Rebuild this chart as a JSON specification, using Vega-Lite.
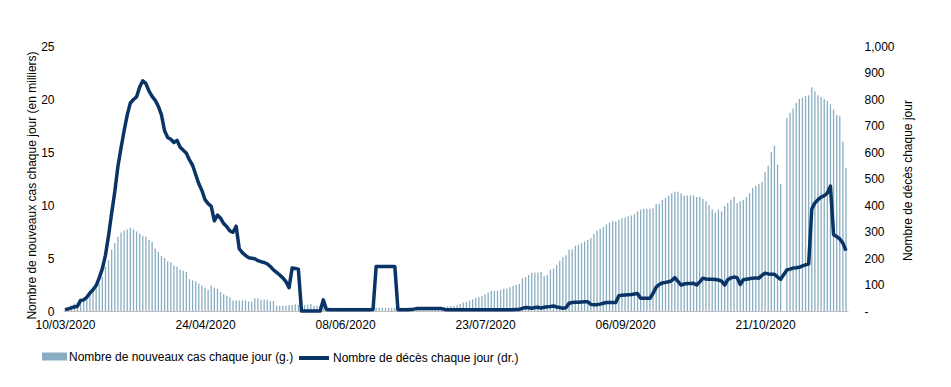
{
  "$schema": "https://vega.github.io/schema/vega-lite/v6.json",
  "width": 785,
  "height": 265,
  "autosize": {"type": "none"},
  "padding": {"left": 63, "top": 46, "right": 103, "bottom": 76},
  "background": "white",
  "config": {
    "view": {"stroke": null},
    "font": "Liberation Sans",
    "axis": {"labelFont": "Liberation Sans", "titleFont": "Liberation Sans", "labelFontSize": 12, "titleFontSize": 12, "labelColor": "#000000", "titleColor": "#000000", "titleFontWeight": "normal", "grid": false},
    "legend": {"labelFont": "Liberation Sans", "labelFontSize": 12, "labelColor": "#000000", "padding": 0, "labelLimit": 500, "labelOffset": 2}
  },
  "data": {"values": [
    {"date": "2020/03/10", "cases": 0.1, "deaths": 5},
    {"date": "2020/03/11", "cases": 0.15, "deaths": 8},
    {"date": "2020/03/12", "cases": 0.3, "deaths": 12},
    {"date": "2020/03/13", "cases": 0.7, "deaths": 15},
    {"date": "2020/03/14", "cases": 0.8, "deaths": 18},
    {"date": "2020/03/15", "cases": 1.0, "deaths": 40},
    {"date": "2020/03/16", "cases": 1.2, "deaths": 42},
    {"date": "2020/03/17", "cases": 1.4, "deaths": 52},
    {"date": "2020/03/18", "cases": 1.7, "deaths": 68},
    {"date": "2020/03/19", "cases": 2.0, "deaths": 80},
    {"date": "2020/03/20", "cases": 2.3, "deaths": 96},
    {"date": "2020/03/21", "cases": 2.6, "deaths": 125},
    {"date": "2020/03/22", "cases": 3.2, "deaths": 160},
    {"date": "2020/03/23", "cases": 4.2, "deaths": 210},
    {"date": "2020/03/24", "cases": 4.8, "deaths": 285},
    {"date": "2020/03/25", "cases": 5.8, "deaths": 370},
    {"date": "2020/03/26", "cases": 6.4, "deaths": 450},
    {"date": "2020/03/27", "cases": 7.0, "deaths": 545},
    {"date": "2020/03/28", "cases": 7.4, "deaths": 615},
    {"date": "2020/03/29", "cases": 7.6, "deaths": 680},
    {"date": "2020/03/30", "cases": 7.7, "deaths": 740},
    {"date": "2020/03/31", "cases": 7.85, "deaths": 785},
    {"date": "2020/04/01", "cases": 7.7, "deaths": 798},
    {"date": "2020/04/02", "cases": 7.5, "deaths": 808},
    {"date": "2020/04/03", "cases": 7.3, "deaths": 845},
    {"date": "2020/04/04", "cases": 7.1, "deaths": 869},
    {"date": "2020/04/05", "cases": 7.0, "deaths": 858},
    {"date": "2020/04/06", "cases": 6.7, "deaths": 830},
    {"date": "2020/04/07", "cases": 6.5, "deaths": 810},
    {"date": "2020/04/08", "cases": 5.9, "deaths": 795},
    {"date": "2020/04/09", "cases": 5.6, "deaths": 772},
    {"date": "2020/04/10", "cases": 5.2, "deaths": 740},
    {"date": "2020/04/11", "cases": 5.0, "deaths": 680},
    {"date": "2020/04/12", "cases": 4.7, "deaths": 655},
    {"date": "2020/04/13", "cases": 4.6, "deaths": 648},
    {"date": "2020/04/14", "cases": 4.3, "deaths": 636},
    {"date": "2020/04/15", "cases": 4.2, "deaths": 644},
    {"date": "2020/04/16", "cases": 3.9, "deaths": 618},
    {"date": "2020/04/17", "cases": 3.8, "deaths": 607},
    {"date": "2020/04/18", "cases": 3.7, "deaths": 595},
    {"date": "2020/04/19", "cases": 3.0, "deaths": 570},
    {"date": "2020/04/20", "cases": 2.9, "deaths": 550},
    {"date": "2020/04/21", "cases": 2.8, "deaths": 515},
    {"date": "2020/04/22", "cases": 2.6, "deaths": 480},
    {"date": "2020/04/23", "cases": 2.4, "deaths": 455},
    {"date": "2020/04/24", "cases": 2.2, "deaths": 420},
    {"date": "2020/04/25", "cases": 2.0, "deaths": 405},
    {"date": "2020/04/26", "cases": 2.4, "deaths": 395},
    {"date": "2020/04/27", "cases": 2.2, "deaths": 340},
    {"date": "2020/04/28", "cases": 2.1, "deaths": 362},
    {"date": "2020/04/29", "cases": 1.8, "deaths": 350},
    {"date": "2020/04/30", "cases": 1.6, "deaths": 330},
    {"date": "2020/05/01", "cases": 1.45, "deaths": 318},
    {"date": "2020/05/02", "cases": 1.3, "deaths": 302},
    {"date": "2020/05/03", "cases": 1.0, "deaths": 297},
    {"date": "2020/05/04", "cases": 1.0, "deaths": 320},
    {"date": "2020/05/05", "cases": 1.0, "deaths": 235},
    {"date": "2020/05/06", "cases": 1.0, "deaths": 220},
    {"date": "2020/05/07", "cases": 1.0, "deaths": 210},
    {"date": "2020/05/08", "cases": 0.9, "deaths": 201},
    {"date": "2020/05/09", "cases": 0.9, "deaths": 199},
    {"date": "2020/05/10", "cases": 1.2, "deaths": 197},
    {"date": "2020/05/11", "cases": 1.2, "deaths": 190},
    {"date": "2020/05/12", "cases": 1.05, "deaths": 186},
    {"date": "2020/05/13", "cases": 1.05, "deaths": 183},
    {"date": "2020/05/14", "cases": 1.05, "deaths": 178},
    {"date": "2020/05/15", "cases": 0.95, "deaths": 168},
    {"date": "2020/05/16", "cases": 0.95, "deaths": 155},
    {"date": "2020/05/17", "cases": 0.5, "deaths": 146},
    {"date": "2020/05/18", "cases": 0.5, "deaths": 136},
    {"date": "2020/05/19", "cases": 0.5, "deaths": 125},
    {"date": "2020/05/20", "cases": 0.5, "deaths": 111},
    {"date": "2020/05/21", "cases": 0.57, "deaths": 88},
    {"date": "2020/05/22", "cases": 0.57, "deaths": 162},
    {"date": "2020/05/23", "cases": 0.63, "deaths": 160},
    {"date": "2020/05/24", "cases": 0.6, "deaths": 158},
    {"date": "2020/05/25", "cases": 0.6, "deaths": 0},
    {"date": "2020/05/26", "cases": 0.57, "deaths": 0},
    {"date": "2020/05/27", "cases": 0.6, "deaths": 0},
    {"date": "2020/05/28", "cases": 0.66, "deaths": 0},
    {"date": "2020/05/29", "cases": 0.5, "deaths": 0},
    {"date": "2020/05/30", "cases": 0.5, "deaths": 0},
    {"date": "2020/05/31", "cases": 0.5, "deaths": 0},
    {"date": "2020/06/01", "cases": 0.45, "deaths": 42},
    {"date": "2020/06/02", "cases": 0.4, "deaths": 6},
    {"date": "2020/06/03", "cases": 0.35, "deaths": 5},
    {"date": "2020/06/04", "cases": 0.3, "deaths": 5},
    {"date": "2020/06/05", "cases": 0.3, "deaths": 5},
    {"date": "2020/06/06", "cases": 0.32, "deaths": 5},
    {"date": "2020/06/07", "cases": 0.3, "deaths": 5},
    {"date": "2020/06/08", "cases": 0.28, "deaths": 5},
    {"date": "2020/06/09", "cases": 0.3, "deaths": 5},
    {"date": "2020/06/10", "cases": 0.3, "deaths": 5},
    {"date": "2020/06/11", "cases": 0.32, "deaths": 5},
    {"date": "2020/06/12", "cases": 0.3, "deaths": 5},
    {"date": "2020/06/13", "cases": 0.28, "deaths": 5},
    {"date": "2020/06/14", "cases": 0.3, "deaths": 5},
    {"date": "2020/06/15", "cases": 0.3, "deaths": 5},
    {"date": "2020/06/16", "cases": 0.3, "deaths": 5},
    {"date": "2020/06/17", "cases": 0.32, "deaths": 6},
    {"date": "2020/06/18", "cases": 0.3, "deaths": 168},
    {"date": "2020/06/19", "cases": 0.3, "deaths": 168},
    {"date": "2020/06/20", "cases": 0.3, "deaths": 168},
    {"date": "2020/06/21", "cases": 0.3, "deaths": 168},
    {"date": "2020/06/22", "cases": 0.3, "deaths": 168},
    {"date": "2020/06/23", "cases": 0.3, "deaths": 168},
    {"date": "2020/06/24", "cases": 0.3, "deaths": 168},
    {"date": "2020/06/25", "cases": 0.3, "deaths": 5},
    {"date": "2020/06/26", "cases": 0.32, "deaths": 5},
    {"date": "2020/06/27", "cases": 0.3, "deaths": 5},
    {"date": "2020/06/28", "cases": 0.3, "deaths": 5},
    {"date": "2020/06/29", "cases": 0.32, "deaths": 6},
    {"date": "2020/06/30", "cases": 0.3, "deaths": 7},
    {"date": "2020/07/01", "cases": 0.33, "deaths": 9},
    {"date": "2020/07/02", "cases": 0.33, "deaths": 9},
    {"date": "2020/07/03", "cases": 0.35, "deaths": 9},
    {"date": "2020/07/04", "cases": 0.33, "deaths": 9},
    {"date": "2020/07/05", "cases": 0.35, "deaths": 9},
    {"date": "2020/07/06", "cases": 0.35, "deaths": 9},
    {"date": "2020/07/07", "cases": 0.38, "deaths": 9},
    {"date": "2020/07/08", "cases": 0.38, "deaths": 9},
    {"date": "2020/07/09", "cases": 0.4, "deaths": 9},
    {"date": "2020/07/10", "cases": 0.4, "deaths": 6},
    {"date": "2020/07/11", "cases": 0.45, "deaths": 5},
    {"date": "2020/07/12", "cases": 0.47, "deaths": 5},
    {"date": "2020/07/13", "cases": 0.5, "deaths": 5},
    {"date": "2020/07/14", "cases": 0.55, "deaths": 5},
    {"date": "2020/07/15", "cases": 0.66, "deaths": 5},
    {"date": "2020/07/16", "cases": 0.8, "deaths": 5},
    {"date": "2020/07/17", "cases": 0.85, "deaths": 5},
    {"date": "2020/07/18", "cases": 0.98, "deaths": 5},
    {"date": "2020/07/19", "cases": 1.1, "deaths": 5},
    {"date": "2020/07/20", "cases": 1.26, "deaths": 5},
    {"date": "2020/07/21", "cases": 1.32, "deaths": 5},
    {"date": "2020/07/22", "cases": 1.42, "deaths": 5},
    {"date": "2020/07/23", "cases": 1.58, "deaths": 5},
    {"date": "2020/07/24", "cases": 1.73, "deaths": 5},
    {"date": "2020/07/25", "cases": 1.9, "deaths": 5},
    {"date": "2020/07/26", "cases": 1.92, "deaths": 5},
    {"date": "2020/07/27", "cases": 1.92, "deaths": 5},
    {"date": "2020/07/28", "cases": 2.0, "deaths": 5},
    {"date": "2020/07/29", "cases": 2.1, "deaths": 5},
    {"date": "2020/07/30", "cases": 2.1, "deaths": 5},
    {"date": "2020/07/31", "cases": 2.24, "deaths": 5},
    {"date": "2020/08/01", "cases": 2.37, "deaths": 5},
    {"date": "2020/08/02", "cases": 2.46, "deaths": 6},
    {"date": "2020/08/03", "cases": 2.55, "deaths": 6},
    {"date": "2020/08/04", "cases": 3.1, "deaths": 10},
    {"date": "2020/08/05", "cases": 3.2, "deaths": 13},
    {"date": "2020/08/06", "cases": 3.4, "deaths": 12},
    {"date": "2020/08/07", "cases": 3.6, "deaths": 10},
    {"date": "2020/08/08", "cases": 3.6, "deaths": 13},
    {"date": "2020/08/09", "cases": 3.6, "deaths": 14},
    {"date": "2020/08/10", "cases": 3.7, "deaths": 11},
    {"date": "2020/08/11", "cases": 3.3, "deaths": 14},
    {"date": "2020/08/12", "cases": 3.4, "deaths": 16},
    {"date": "2020/08/13", "cases": 3.9, "deaths": 17},
    {"date": "2020/08/14", "cases": 4.0, "deaths": 19},
    {"date": "2020/08/15", "cases": 4.35, "deaths": 15},
    {"date": "2020/08/16", "cases": 4.73, "deaths": 13},
    {"date": "2020/08/17", "cases": 5.08, "deaths": 10},
    {"date": "2020/08/18", "cases": 5.27, "deaths": 12},
    {"date": "2020/08/19", "cases": 5.77, "deaths": 29},
    {"date": "2020/08/20", "cases": 5.8, "deaths": 32},
    {"date": "2020/08/21", "cases": 6.15, "deaths": 33},
    {"date": "2020/08/22", "cases": 6.25, "deaths": 33},
    {"date": "2020/08/23", "cases": 6.4, "deaths": 34},
    {"date": "2020/08/24", "cases": 6.56, "deaths": 35},
    {"date": "2020/08/25", "cases": 6.7, "deaths": 35},
    {"date": "2020/08/26", "cases": 6.88, "deaths": 25},
    {"date": "2020/08/27", "cases": 7.26, "deaths": 24},
    {"date": "2020/08/28", "cases": 7.57, "deaths": 24},
    {"date": "2020/08/29", "cases": 7.73, "deaths": 26},
    {"date": "2020/08/30", "cases": 7.89, "deaths": 29},
    {"date": "2020/08/31", "cases": 8.14, "deaths": 32},
    {"date": "2020/09/01", "cases": 8.33, "deaths": 32},
    {"date": "2020/09/02", "cases": 8.5, "deaths": 32},
    {"date": "2020/09/03", "cases": 8.45, "deaths": 32},
    {"date": "2020/09/04", "cases": 8.6, "deaths": 58},
    {"date": "2020/09/05", "cases": 8.74, "deaths": 59},
    {"date": "2020/09/06", "cases": 8.83, "deaths": 60},
    {"date": "2020/09/07", "cases": 8.93, "deaths": 61},
    {"date": "2020/09/08", "cases": 9.0, "deaths": 62},
    {"date": "2020/09/09", "cases": 9.15, "deaths": 64},
    {"date": "2020/09/10", "cases": 9.4, "deaths": 66},
    {"date": "2020/09/11", "cases": 9.56, "deaths": 48},
    {"date": "2020/09/12", "cases": 9.65, "deaths": 48},
    {"date": "2020/09/13", "cases": 9.65, "deaths": 48},
    {"date": "2020/09/14", "cases": 9.65, "deaths": 48},
    {"date": "2020/09/15", "cases": 9.7, "deaths": 67},
    {"date": "2020/09/16", "cases": 10.1, "deaths": 90},
    {"date": "2020/09/17", "cases": 10.1, "deaths": 100},
    {"date": "2020/09/18", "cases": 10.5, "deaths": 106},
    {"date": "2020/09/19", "cases": 10.66, "deaths": 108},
    {"date": "2020/09/20", "cases": 10.88, "deaths": 110},
    {"date": "2020/09/21", "cases": 11.1, "deaths": 115},
    {"date": "2020/09/22", "cases": 11.26, "deaths": 126},
    {"date": "2020/09/23", "cases": 11.26, "deaths": 112},
    {"date": "2020/09/24", "cases": 11.1, "deaths": 98},
    {"date": "2020/09/25", "cases": 10.9, "deaths": 102},
    {"date": "2020/09/26", "cases": 10.9, "deaths": 104},
    {"date": "2020/09/27", "cases": 10.9, "deaths": 104},
    {"date": "2020/09/28", "cases": 10.9, "deaths": 105},
    {"date": "2020/09/29", "cases": 10.76, "deaths": 98},
    {"date": "2020/09/30", "cases": 10.76, "deaths": 110},
    {"date": "2020/10/01", "cases": 10.57, "deaths": 124},
    {"date": "2020/10/02", "cases": 10.35, "deaths": 121},
    {"date": "2020/10/03", "cases": 10.0, "deaths": 120},
    {"date": "2020/10/04", "cases": 9.6, "deaths": 120},
    {"date": "2020/10/05", "cases": 9.3, "deaths": 119},
    {"date": "2020/10/06", "cases": 9.56, "deaths": 117},
    {"date": "2020/10/07", "cases": 9.4, "deaths": 113},
    {"date": "2020/10/08", "cases": 9.9, "deaths": 98},
    {"date": "2020/10/09", "cases": 10.2, "deaths": 118},
    {"date": "2020/10/10", "cases": 10.5, "deaths": 125},
    {"date": "2020/10/11", "cases": 10.76, "deaths": 128},
    {"date": "2020/10/12", "cases": 10.2, "deaths": 126},
    {"date": "2020/10/13", "cases": 10.35, "deaths": 100},
    {"date": "2020/10/14", "cases": 10.5, "deaths": 118},
    {"date": "2020/10/15", "cases": 10.76, "deaths": 120},
    {"date": "2020/10/16", "cases": 11.1, "deaths": 122},
    {"date": "2020/10/17", "cases": 11.6, "deaths": 124},
    {"date": "2020/10/18", "cases": 11.8, "deaths": 125},
    {"date": "2020/10/19", "cases": 12.0, "deaths": 124},
    {"date": "2020/10/20", "cases": 12.2, "deaths": 135},
    {"date": "2020/10/21", "cases": 13.1, "deaths": 143},
    {"date": "2020/10/22", "cases": 13.7, "deaths": 140},
    {"date": "2020/10/23", "cases": 15.0, "deaths": 139},
    {"date": "2020/10/24", "cases": 15.6, "deaths": 139},
    {"date": "2020/10/25", "cases": 13.8, "deaths": 128},
    {"date": "2020/10/26", "cases": 12.0, "deaths": 120},
    {"date": "2020/10/27", "cases": null, "deaths": 138},
    {"date": "2020/10/28", "cases": 18.2, "deaths": 155},
    {"date": "2020/10/29", "cases": 18.7, "deaths": 158},
    {"date": "2020/10/30", "cases": 19.1, "deaths": 162},
    {"date": "2020/10/31", "cases": 19.65, "deaths": 163},
    {"date": "2020/11/01", "cases": 20.0, "deaths": 165},
    {"date": "2020/11/02", "cases": 20.1, "deaths": 170},
    {"date": "2020/11/03", "cases": 20.3, "deaths": 174},
    {"date": "2020/11/04", "cases": 20.35, "deaths": 178},
    {"date": "2020/11/05", "cases": 21.1, "deaths": 385},
    {"date": "2020/11/06", "cases": 20.7, "deaths": 408},
    {"date": "2020/11/07", "cases": 20.35, "deaths": 420},
    {"date": "2020/11/08", "cases": 20.2, "deaths": 430},
    {"date": "2020/11/09", "cases": 20.0, "deaths": 435},
    {"date": "2020/11/10", "cases": 19.8, "deaths": 445},
    {"date": "2020/11/11", "cases": 19.5, "deaths": 471},
    {"date": "2020/11/12", "cases": 19.0, "deaths": 288},
    {"date": "2020/11/13", "cases": 18.5, "deaths": 281},
    {"date": "2020/11/14", "cases": 18.4, "deaths": 272},
    {"date": "2020/11/15", "cases": 16.0, "deaths": 256},
    {"date": "2020/11/16", "cases": 13.5, "deaths": 228}
  ]},
  "encoding": {
    "x": {
      "field": "date",
      "type": "temporal",
      "scale": {
        "padding": 0,
        "nice": false,
        "domain": [
          {"year": 2020, "month": 3, "date": 9, "hours": 8, "minutes": 34},
          {"year": 2020, "month": 11, "date": 16, "hours": 15, "minutes": 22}
        ]
      },
      "axis": {
        "title": null,
        "format": "%d/%m/%Y",
        "values": [
          {"year": 2020, "month": 3, "date": 10},
          {"year": 2020, "month": 4, "date": 24},
          {"year": 2020, "month": 6, "date": 8},
          {"year": 2020, "month": 7, "date": 23},
          {"year": 2020, "month": 9, "date": 6},
          {"year": 2020, "month": 10, "date": 21}
        ],
        "labelFlush": false,
        "labelOverlap": false,
        "ticks": false,
        "tickSize": 0,
        "labelPadding": 8,
        "domainColor": "#bfbfbf",
        "domainWidth": 1
      }
    }
  },
  "layer": [
    {
      "mark": {"type": "bar", "width": 1.3},
      "encoding": {
        "y": {
          "field": "cases",
          "type": "quantitative",
          "scale": {"domain": [0, 25]},
          "axis": {
            "orient": "left",
            "values": [0, 5, 10, 15, 20, 25],
            "title": "Nombre de nouveaux cas chaque jour (en milliers)",
            "domain": false,
            "ticks": false,
            "tickSize": 0,
            "labelPadding": 9,
            "titleX": -32,
            "titleY": 139,
            "titleAngle": 270,
            "titleAlign": "center",
            "titleBaseline": "middle"
          }
        },
        "fill": {
          "datum": "Nombre de nouveaux cas chaque jour (g.)",
          "type": "nominal",
          "scale": {"range": ["#8aaec1"]},
          "legend": {
            "title": null,
            "orient": "none",
            "legendX": -21,
            "legendY": 298,
            "symbolType": "M-1,-0.32H1V0.32H-1Z",
            "symbolSize": 625,
            "symbolStrokeWidth": 0
          }
        }
      }
    },
    {
      "mark": {"type": "line", "strokeWidth": 3.5, "strokeJoin": "round"},
      "encoding": {
        "y": {
          "field": "deaths",
          "type": "quantitative",
          "scale": {"domain": [0, 1000]},
          "axis": {
            "orient": "right",
            "values": [0, 100, 200, 300, 400, 500, 600, 700, 800, 900, 1000],
            "labelExpr": "datum.value == 0 ? '-' : format(datum.value, ',')",
            "title": "Nombre de décès chaque jour",
            "domain": false,
            "ticks": false,
            "tickSize": 0,
            "labelPadding": 16,
            "labelAlign": "left",
            "titleX": 59.5,
            "titleY": 134,
            "titleAngle": 270,
            "titleAlign": "center",
            "titleBaseline": "middle"
          }
        },
        "stroke": {
          "datum": "Nombre de décès chaque jour (dr.)",
          "type": "nominal",
          "scale": {"range": ["#0a3466"]},
          "legend": {
            "title": null,
            "orient": "none",
            "legendX": 234,
            "legendY": 295,
            "symbolType": "stroke",
            "symbolSize": 900,
            "symbolStrokeWidth": 4
          }
        }
      }
    }
  ],
  "resolve": {"scale": {"y": "independent"}}
}
